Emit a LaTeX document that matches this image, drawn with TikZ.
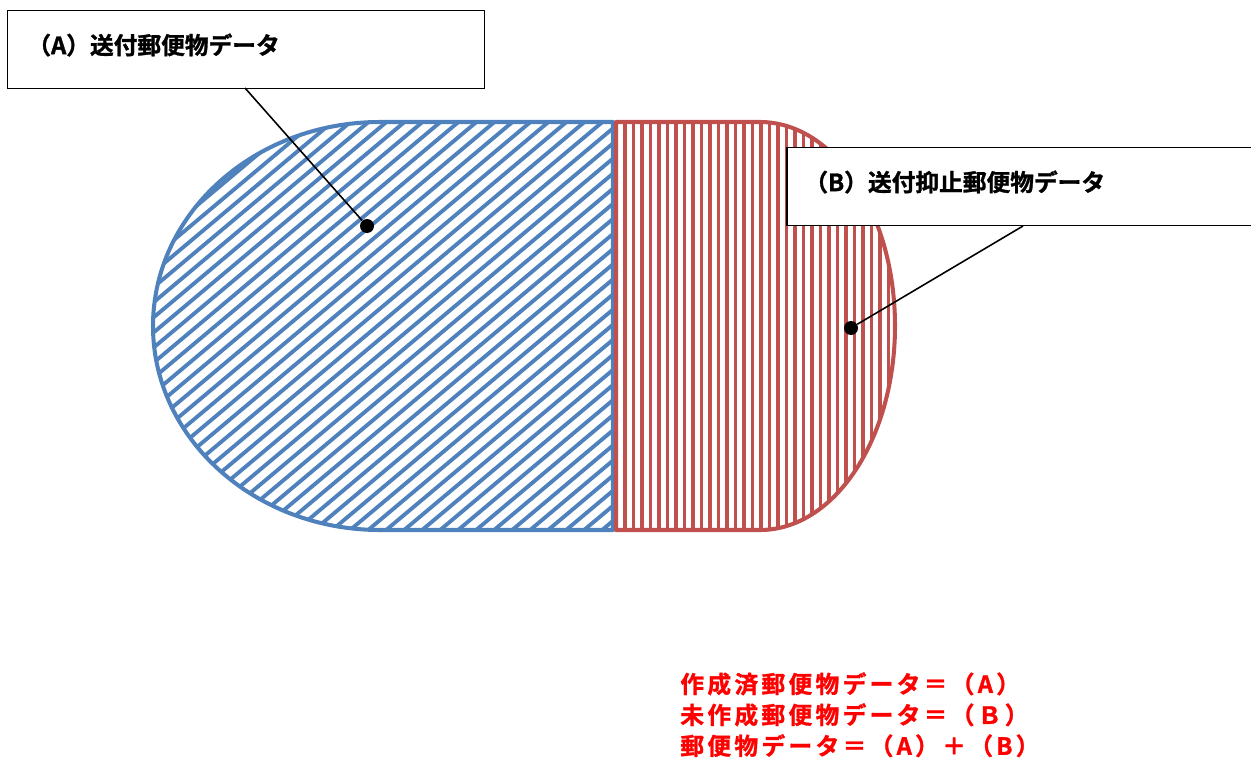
\documentclass[tikz,border=0pt]{standalone}
\usepackage{fontspec}
\setmainfont{Noto Sans CJK JP}[BoldFont={Noto Sans CJK JP Bold},BoldFeatures={FakeBold=1.2}]
\newfontfamily\sumfont{Noto Sans CJK JP Bold}[LetterSpace=14,FakeBold=1.2]
\definecolor{sentblue}{HTML}{4F81BD}
\definecolor{heldred}{HTML}{C0504D}
\begin{document}
\begin{tikzpicture}[x=0.02cm,y=-0.02cm,
  callout/.style={draw,fill=white,line width=0.85pt,minimum width=9.54cm,minimum height=1.56cm,anchor=north west,inner sep=0pt},
  calltext/.style={anchor=west,inner sep=0pt,font=\bfseries\fontsize{13.5pt}{16pt}\selectfont},
  leader/.style={line width=0.9pt},
  dot/.style={circle,fill=black,inner sep=0pt,minimum size=0.28cm},
  hatch/.style={line width=2.2pt},
  outline/.style={line width=2.3pt,line join=round}]
\useasboundingbox (0,0) rectangle (1251,764);
% (A) blue half, diagonal hatch
\begin{scope}
\clip (613,122) -- (380,122) arc[start angle=270,end angle=90,x radius=227,y radius=204] -- (613,530) -- cycle;
\foreach \c in {250,265.1,...,1060} \draw[hatch,sentblue] (140,\c-117.5) -- (630,\c-528.6);
\end{scope}
\draw[outline,sentblue] (613,122) -- (380,122) arc[start angle=270,end angle=90,x radius=227,y radius=204] -- (613,530) -- cycle;
% (B) red half, vertical hatch
\begin{scope}
\clip (616,122) -- (760,122) arc[start angle=270,end angle=450,x radius=135,y radius=204] -- (616,530) -- cycle;
\foreach \x in {625,633.5,...,900} \draw[hatch,heldred] (\x,115) -- (\x,540);
\end{scope}
\draw[outline,heldred] (616,122) -- (760,122) arc[start angle=270,end angle=450,x radius=135,y radius=204] -- (616,530) -- cycle;
% callouts
\node[callout] (boxA) at (7,10) {};
\node[calltext] (labelA) at ([shift={(20,35)}]boxA.north west) {（A）送付郵便物データ};
\node[callout] (boxB) at (786,147) {};
\node[calltext] (labelB) at ([shift={(18,35)}]boxB.north west) {（B）送付抑止郵便物データ};
\node[dot] (dotA) at (367,226) {};
\node[dot] (dotB) at (851,328) {};
\coordinate (tailA) at (245,88);
\coordinate (tailB) at (1023,226);
\draw[leader] (tailA) -- (dotA);
\draw[leader] (tailB) -- (dotB);
% summary
\node[anchor=north west,align=left,inner sep=0pt,text=red,font=\sumfont\fontsize{13.5pt}{17.6pt}\selectfont] (summary) at (680,672)
  {作成済郵便物データ＝（A）\\未作成郵便物データ＝（Ｂ）\\郵便物データ＝（A）＋（B）};
\end{tikzpicture}
\end{document}
